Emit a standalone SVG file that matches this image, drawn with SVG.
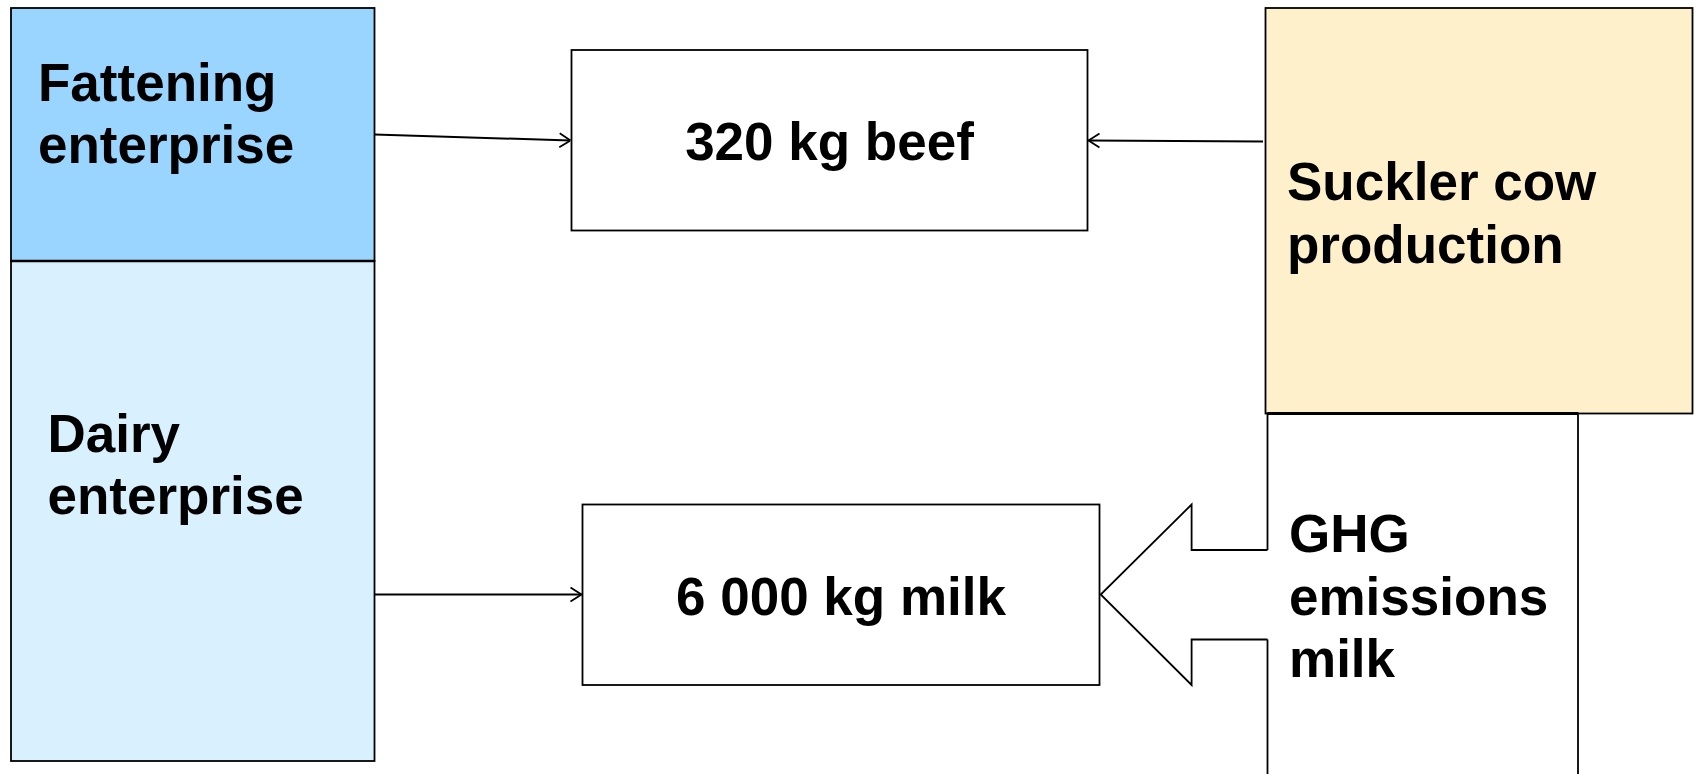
<svg xmlns="http://www.w3.org/2000/svg" width="1697" height="774" viewBox="0 0 1697 774">
<style>
  .box { stroke: #000; stroke-width: 1.8; }
  .lbl { font-family: "Liberation Sans", Arial, sans-serif; font-weight: bold; font-size: 53px; fill: #000; }
  .conn { stroke: #000; stroke-width: 2; fill: none; }
</style>
<defs>
  <marker id="open" viewBox="0 0 12 16" refX="12" refY="8" markerWidth="12" markerHeight="16" markerUnits="userSpaceOnUse" orient="auto">
    <path d="M1,1 L12,8 L1,15" fill="none" stroke="#000" stroke-width="1.8"/>
  </marker>
</defs>
<rect width="1697" height="774" fill="#fff"/>
<g id="fattening">
  <rect class="box" x="11" y="8" width="363.5" height="253" fill="#99D5FF"/>
  <text class="lbl" x="38" y="101">Fattening</text>
  <text class="lbl" x="38" y="163">enterprise</text>
</g>
<g id="dairy">
  <rect class="box" x="11" y="261" width="363.5" height="500" fill="#D9F0FE"/>
  <line x1="11" y1="261" x2="374.5" y2="261" stroke="#000" stroke-width="2.6"/>
  <text class="lbl" x="47.5" y="452">Dairy</text>
  <text class="lbl" x="47.5" y="514">enterprise</text>
</g>
<g id="beef">
  <rect class="box" x="571.5" y="50" width="516" height="180.5" fill="#fff"/>
  <text class="lbl" x="829.5" y="160" text-anchor="middle">320 kg beef</text>
</g>
<g id="milk">
  <rect class="box" x="582.5" y="504.5" width="517" height="180.5" fill="#fff"/>
  <text class="lbl" x="841" y="615" text-anchor="middle">6 000 kg milk</text>
</g>
<g id="suckler">
  <rect class="box" x="1265.5" y="8" width="427" height="405.5" fill="#FEF0CB"/>
  <text class="lbl" x="1287" y="200">Suckler cow</text>
  <text class="lbl" x="1287" y="263">production</text>
</g>
<g id="ghg">
  <path d="M1267.5,790 L1267.5,413.5 L1578,413.5 L1578,790" fill="#fff" stroke="#000" stroke-width="1.8"/>
  <line x1="1267.5" y1="413.5" x2="1578" y2="413.5" stroke="#000" stroke-width="2.8"/>
  <polygon points="1100.7,594.5 1191.6,504.5 1191.6,550 1270,550 1270,639.5 1191.6,639.5 1191.6,685" fill="#fff" stroke="none"/>
  <path d="M1267.5,550 L1191.6,550 L1191.6,504.5 L1100.7,594.5 L1191.6,685 L1191.6,639.5 L1267.5,639.5" fill="none" stroke="#000" stroke-width="1.8"/>
  <text class="lbl" x="1289" y="552">GHG</text>
  <text class="lbl" x="1289" y="615">emissions</text>
  <text class="lbl" x="1289" y="677">milk</text>
</g>
<g id="connectors">
  <line class="conn" x1="374.5" y1="134.5" x2="570.5" y2="140.5" marker-end="url(#open)"/>
  <line class="conn" x1="1263" y1="141.5" x2="1088.5" y2="140.5" marker-end="url(#open)"/>
  <line class="conn" x1="374.5" y1="594.5" x2="581.5" y2="594.5" marker-end="url(#open)"/>
</g>
</svg>
